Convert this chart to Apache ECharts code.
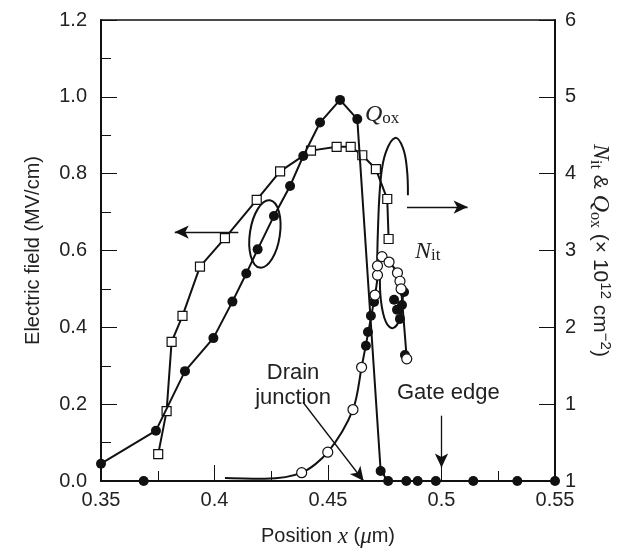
<!DOCTYPE html>
<html><head><meta charset="utf-8">
<script src="https://cdn.jsdelivr.net/npm/echarts@6/dist/echarts.min.js"></script>
<style>html,body{margin:0;padding:0;background:#fff}#c{width:631px;height:556px}</style>
</head><body><div id="c"></div>
<script>
// ---- data (x in µm) ----
const fieldX = [0.350,0.3742,0.3870,0.3995,0.4079,0.4140,0.4190,0.4262,0.4333,0.4391,0.4465,0.4553,0.4629,0.4732,0.4765,0.4845,0.4895,0.4975,0.5140,0.5334,0.550];
const fieldY = [0.045,0.131,0.286,0.372,0.467,0.540,0.603,0.690,0.768,0.846,0.933,0.992,0.942,0.026,0,0,0,0,0,0,0];
const isoX = [0.3688];
const isoY = [0];
const qoxX = [0.3752,0.3789,0.3811,0.3859,0.3936,0.4046,0.4186,0.4289,0.4425,0.4538,0.4600,0.4651,0.4711,0.4761,0.4767];
const qoxY = [0.35,0.91,1.81,2.15,2.79,3.16,3.66,4.03,4.30,4.35,4.35,4.24,4.06,3.67,3.15];
const nitX = [0.4046,0.4222,0.4384,0.4499,0.4610,0.4648,0.4707,0.4718,0.4718,0.4738,0.4769,0.4806,0.4817,0.4822,0.4847];
const nitY = [0.04,0.03,0.108,0.375,0.93,1.48,2.42,2.68,2.80,2.92,2.85,2.71,2.60,2.50,1.59];
const nitMarked = [false,false,true,true,true,true,true,true,true,true,true,true,true,true,true];
const nit2X = [0.4667,0.4676,0.4689,0.4703,0.4791,0.4804,0.4817,0.4826,0.4835,0.4839];
const nit2Y = [1.76,1.94,2.15,2.33,2.36,2.23,2.11,2.29,2.46,1.64];
const xTicks = ['0.35','0.4','0.45','0.5','0.55'];

// ---- annotation geometry (data coords, left axis) ----
const arrows = [
  [[0.4105,0.648],[0.3825,0.648]],
  [[0.4848,0.713],[0.5115,0.713]],
  [[0.4390,0.205],[0.4657,0.0]],
  [[0.5,0.170],[0.5,0.035]]
];
const archPts = [[0.4716,0.523],[0.4720,0.653],[0.4733,0.791],[0.4755,0.856],[0.4795,0.893],[0.4830,0.867],[0.4848,0.810],[0.4852,0.744]];
const loopPts = [[0.4729,0.541],[0.4733,0.471],[0.4755,0.414],[0.4786,0.398],[0.4817,0.424],[0.4830,0.484]];
const ellC = [0.4222,0.643];

const zip = (a,b)=>a.map((v,i)=>[v,b[i]]);
const INK = '#111';
const TXT = '#222';
const SANS = 'Liberation Sans, Arial, sans-serif';
const SERIF = 'Liberation Serif, Times New Roman, serif';

const chart = echarts.init(document.getElementById('c'));
const option = {
  animation:false,
  backgroundColor:'#fff',
  grid:{left:101,right:76,top:20,bottom:75,show:true,borderColor:INK,borderWidth:1.5,backgroundColor:'transparent'},
  xAxis:{type:'value',min:0.35,max:0.55,interval:0.05,
    axisLine:{onZero:false,lineStyle:{color:INK,width:2}},
    axisTick:{inside:true,length:16,lineStyle:{color:INK,width:1}},
    minorTick:{show:true,splitNumber:2,length:10,lineStyle:{color:INK,width:1}},
    splitLine:{show:false},
    axisLabel:{color:TXT,fontFamily:SANS,fontSize:20,margin:9,formatter:v=>{const s=String(+v.toFixed(3));return xTicks.includes(s)?s:'';}},
    name:'{a|Position }{i|x}{a| (}{i|\u03bc}{a|m)}',nameLocation:'middle',nameGap:44,
    nameTextStyle:{rich:{a:{fontFamily:SANS,fontSize:20,color:TXT},i:{fontFamily:SERIF,fontStyle:'italic',fontSize:23,color:TXT}}}
  },
  yAxis:[
    {type:'value',min:0,max:1.2,interval:0.2,
      axisLine:{onZero:false,lineStyle:{color:INK,width:2}},
      axisTick:{inside:true,length:16,lineStyle:{color:INK,width:1}},
      minorTick:{show:true,splitNumber:2,length:10,lineStyle:{color:INK,width:1}},
      splitLine:{show:false},
      axisLabel:{color:TXT,fontFamily:SANS,fontSize:20,margin:14,formatter:v=>v.toFixed(1)},
      name:'Electric field (MV/cm)',nameLocation:'middle',nameGap:58,nameRotate:90,
      nameTextStyle:{fontFamily:SANS,fontSize:20,color:TXT}
    },
    {type:'value',min:0,max:6,interval:1,position:'right',
      axisLine:{onZero:false,lineStyle:{color:INK,width:2}},
      axisTick:{inside:true,length:16,lineStyle:{color:INK,width:1}},
      splitLine:{show:false},
      axisLabel:{color:TXT,fontFamily:SANS,fontSize:20,margin:10,formatter:v=>v===0?'1':String(v)},
      name:'{i|N}{sb|it}{a| & }{i|Q}{sb|ox}{a| (\u00d7 10}{sp|12}{a| cm}{sp|\u22122}{a|)}',
      nameLocation:'middle',nameGap:30,nameRotate:-90,
      nameTextStyle:{rich:{
        a:{fontFamily:SANS,fontSize:21,color:TXT,lineHeight:26,verticalAlign:'middle'},
        i:{fontFamily:SERIF,fontStyle:'italic',fontSize:24,color:TXT,lineHeight:26,verticalAlign:'middle'},
        sb:{fontFamily:SERIF,fontSize:16,color:TXT,lineHeight:16,verticalAlign:'bottom'},
        sp:{fontFamily:SANS,fontSize:15,color:TXT,lineHeight:16,verticalAlign:'top'}
      }}
    }
  ],
  series:[
    {name:'Qox',type:'line',yAxisIndex:1,data:zip(qoxX,qoxY),symbol:'rect',symbolSize:9,
      lineStyle:{color:INK,width:2},itemStyle:{color:'#fff',borderColor:INK,borderWidth:1.2},z:3},
    {name:'Field',type:'line',yAxisIndex:0,data:zip(fieldX,fieldY),symbol:'circle',symbolSize:10,
      lineStyle:{color:INK,width:2},itemStyle:{color:INK},z:4,
      markLine:{silent:true,symbol:['none','arrow'],symbolSize:[10,14],label:{show:false},
        lineStyle:{color:INK,width:1.3,type:'solid'},
        data:arrows.map(a=>[{coord:a[0]},{coord:a[1]}])}
    },
    {name:'FieldIso',type:'scatter',yAxisIndex:0,data:zip(isoX,isoY),symbol:'circle',symbolSize:10,itemStyle:{color:INK,opacity:1},z:4},
    {name:'Nit2',type:'scatter',yAxisIndex:1,data:zip(nit2X,nit2Y),symbol:'circle',symbolSize:10,
      itemStyle:{color:INK,opacity:1},z:5},
    {name:'Nit',type:'line',yAxisIndex:1,smooth:0.3,
      data:nitX.map((x,i)=>nitMarked[i]?[x,nitY[i]]:{value:[x,nitY[i]],symbol:'none'}),
      symbol:'circle',symbolSize:10,showAllSymbol:true,
      lineStyle:{color:INK,width:2},itemStyle:{color:'#fff',borderColor:INK,borderWidth:1.2},z:6}
  ]
};
chart.setOption(option);

function px(p){return chart.convertToPixel({xAxisIndex:0,yAxisIndex:0},p);}
const c = px(ellC);
const lbl = (p,txt,style)=>{const q=px(p);return {type:'text',x:q[0],y:q[1],style:Object.assign({text:txt,fill:TXT},style)};};
const subRich = {i:{fontFamily:SERIF,fontStyle:'italic',fontSize:24,color:TXT,lineHeight:24},s:{fontFamily:SERIF,fontSize:17,color:TXT,lineHeight:14,verticalAlign:'bottom'}};
chart.setOption({graphic:[
  {type:'ellipse',x:c[0],y:c[1],rotation:-0.15,shape:{cx:0,cy:0,rx:15,ry:34},style:{fill:'none',stroke:INK,lineWidth:2}},
  {type:'polyline',shape:{points:archPts.map(px),smooth:0.4},style:{fill:'none',stroke:INK,lineWidth:2}},
  {type:'polyline',shape:{points:loopPts.map(px),smooth:0.4},style:{fill:'none',stroke:INK,lineWidth:2}},
  lbl([0.4346,0.250],'Drain\njunction',{font:'22px '+SANS,textAlign:'center',textVerticalAlign:'middle',lineHeight:25}),
  lbl([0.5030,0.229],'Gate edge',{font:'22px '+SANS,textAlign:'center',textVerticalAlign:'middle'}),
  lbl([0.4663,0.953],'{i|Q}{s|ox}',{textVerticalAlign:'middle',rich:subRich}),
  lbl([0.4883,0.596],'{i|N}{s|it}',{textVerticalAlign:'middle',rich:subRich})
]});
</script></body></html>
